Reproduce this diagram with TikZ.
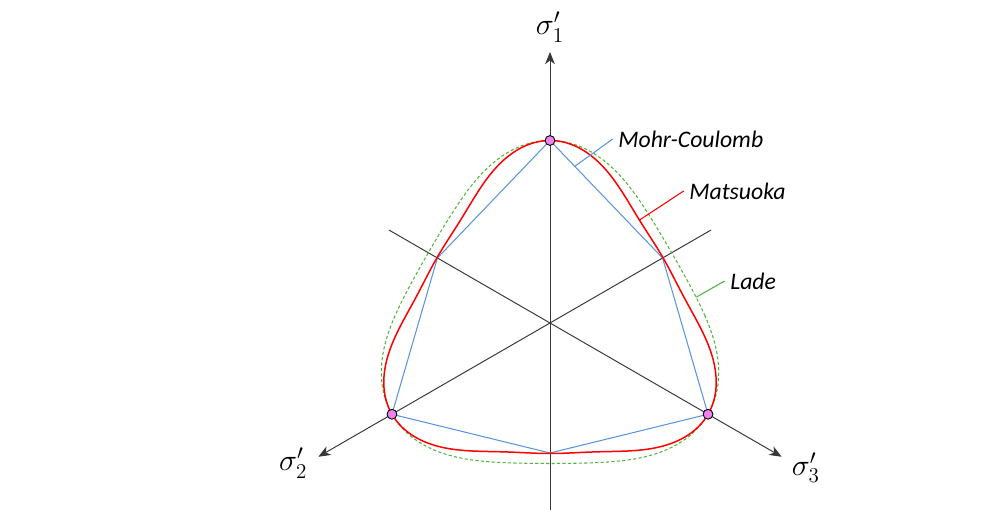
\documentclass[tikz,border=0pt]{standalone}
\usepackage{amsmath}
\usepackage{fontspec}
\setmainfont{Carlito}
\usetikzlibrary{arrows.meta,calc}

\definecolor{mcblue}{RGB}{91,150,220}
\definecolor{ladegreen}{RGB}{80,180,60}
\definecolor{ptviolet}{RGB}{240,130,240}
\definecolor{axisgray}{RGB}{55,55,55}

\tikzset{
	axis/.style={axisgray, line width=0.55pt},
	axisarrow/.style={axis, -{Stealth[length=7pt, width=5.6pt, inset=2.2pt]}},
	mohr/.style={mcblue, line width=0.6pt},
	matsuoka/.style={red, line width=0.85pt},
	lade/.style={ladegreen, line width=0.6pt, dash pattern=on 1.8pt off 1.3pt},
	vertexpt/.style={circle, draw=black, fill=ptviolet, line width=0.5pt, inner sep=0pt, minimum size=5.6pt},
	curvelbl/.style={font=\fontsize{13.5}{15}\selectfont\itshape, inner sep=3pt, anchor=west},
	sigmalbl/.style={font=\fontsize{17}{20}\selectfont},
	declare function={
		matr(\t)=3.045+0.52*cos(3*(\t-90))+0.085*cos(6*(\t-90));
		lader(\t)=3.195+0.42*cos(3*(\t-90))+0.035*cos(6*(\t-90));
	}
}

\begin{document}
\begin{tikzpicture}
				\useasboundingbox (-11,-3.74) rectangle (8.62,6.46);
				
				\coordinate (O) at (0,0);
				\coordinate (s1low) at (0,-3.74);
				\coordinate (s1tip) at (90:5.42);
				\coordinate (s2back) at (30:3.72);
				\coordinate (s2tip) at (210:5.35);
				\coordinate (s3back) at (150:3.72);
				\coordinate (s3tip) at (330:5.35);
				
				\draw[axisarrow] (s1low) -- (s1tip);
				\draw[axisarrow] (s2back) -- (s2tip);
				\draw[axisarrow] (s3back) -- (s3tip);
				
				\node[sigmalbl] (s1lbl) at (90:5.92) {$\sigma'_1$};
				\node[sigmalbl] (s2lbl) at (208.6:5.85) {$\sigma'_2$};
				\node[sigmalbl] (s3lbl) at (330.5:5.88) {$\sigma'_3$};
				
				\coordinate (cv1) at (90:3.65);
				\coordinate (cv2) at (210:3.65);
				\coordinate (cv3) at (330:3.65);
				\coordinate (ev1) at (30:2.6);
				\coordinate (ev2) at (150:2.6);
				\coordinate (ev3) at (270:2.6);
				
				\draw[mohr] (cv1) -- (ev1) -- (cv3) -- (ev3) -- (cv2) -- (ev2) -- cycle;
				\draw[lade] plot[smooth cycle, domain=0:357.5, samples=144] (\x:{lader(\x)});
				\draw[matsuoka] plot[smooth cycle, domain=0:357.5, samples=144] (\x:{matr(\x)});
				
				\node[vertexpt] (p1) at (cv1) {};
				\node[vertexpt] (p2) at (cv2) {};
				\node[vertexpt] (p3) at (cv3) {};
				
				\node[curvelbl] (mclbl) at (1.254,3.68) {Mohr-Coulomb};
				\node[curvelbl] (matlbl) at (2.674,2.64) {Matsuoka};
				\node[curvelbl] (ladelbl) at (3.494,0.84) {Lade};
				
				\coordinate (mcpt) at ($(cv1)!0.22!(ev1)$);
				\coordinate (matpt) at (49:{matr(49)});
				\coordinate (ladept) at (10:{lader(10)});
				
				\draw[mohr] (mcpt) -- (mclbl.west);
				\draw[matsuoka, line width=0.6pt] (matpt) -- (matlbl.west);
				\draw[ladegreen, line width=0.6pt] (ladept) -- (ladelbl.west);
			\end{tikzpicture}
\end{document}
